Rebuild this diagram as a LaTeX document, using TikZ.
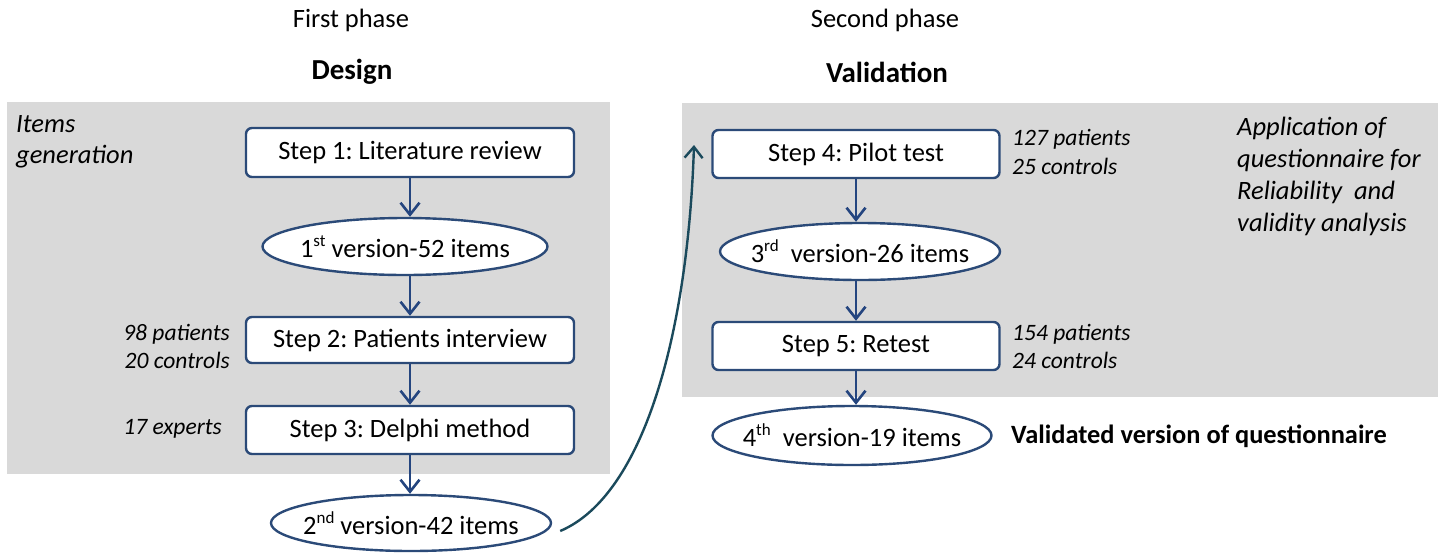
\documentclass[tikz,border=0pt]{standalone}
\usepackage{fontspec}
\setmainfont{Carlito}
\frenchspacing
\usetikzlibrary{arrows.meta,shapes.geometric}
\definecolor{panelgray}{HTML}{D9D9D9}
\definecolor{boxblue}{HTML}{2B4A78}
\definecolor{arrowblue}{HTML}{24457F}
\definecolor{curveteal}{HTML}{1B4A5C}
\newcommand{\fsz}[1]{\fontsize{#1}{#1}\selectfont}
\newcommand{\fszl}[2]{\fontsize{#1}{#2}\selectfont}
% the ellipse size is given by minimum width/height only
\newcommand{\etext}[1]{\makebox[0pt]{#1}}
\newcommand{\ord}[1]{\raisebox{0.42em}{\fontsize{17}{17}\selectfont #1}}
\tikzset{
  stepbox/.style={draw=boxblue, line width=2.4pt, rounded corners=6pt, fill=white,
    inner sep=0pt, font=\fsz{26.5}},
  verell/.style={ellipse, draw=boxblue, line width=2.4pt, fill=white, inner sep=0pt,
    font=\fsz{26.5}},
  flow/.style={draw=arrowblue, line width=2.6pt,
    -{Straight Barb[length=12pt,width=19pt,line width=2.6pt]}},
  note/.style={font=\fsz{23.5}\itshape, inner sep=0pt},
  heading/.style={font=\fsz{26.5}, inner sep=0pt},
  title/.style={font=\fsz{29}\bfseries, inner sep=0pt},
}
\begin{document}
\begin{tikzpicture}[x=1pt,y=-1pt]
  \useasboundingbox (0,0) rectangle (1445,552);
  % panels
  \fill[panelgray] (7,102) rectangle (610,474);
  \fill[panelgray] (682,103) rectangle (1438,397);

  % headings
  \node[heading] (h1) at (351,20) {First phase};
  \node[title]   (t1) at (352,72) {Design};
  \node[heading] (h2) at (885,20) {Second phase};
  \node[title]   (t2) at (887,72) {Validation};

  % first phase
  \node[stepbox, minimum width=328pt, minimum height=49pt] (s1) at (410,152.5) {Step 1: Literature review};
  \node[verell, minimum width=285pt, minimum height=57pt] (e1) at (405,246.5) {\etext{1\ord{st} version-52 items}};
  \node[stepbox, minimum width=328pt, minimum height=46pt] (s2) at (410,340) {Step 2: Patients interview};
  \node[stepbox, minimum width=328pt, minimum height=48pt] (s3) at (410,430) {Step 3: Delphi method};
  \node[verell, minimum width=280pt, minimum height=56pt] (e2) at (411,523) {\etext{2\ord{nd} version-42 items}};

  \node[note, anchor=west, align=left, font=\fszl{26.5}{31}\itshape] (ig) at (16,142) {Items\\generation};
  \node[note, anchor=east, align=right, font=\fszl{23.5}{28}\itshape] (n2) at (230,346) {98 patients\\20 controls};
  \node[note, anchor=east] (n3) at (222,429) {17 experts};

  \draw[flow] (s1.south) -- (s1.south |- e1.north);
  \draw[flow] (s1.south |- e1.south) -- (s2.north);
  \draw[flow] (s2.south) -- (s3.north);
  \draw[flow] (s3.south) -- (s3.south |- e2.north);

  % second phase
  \node[stepbox, minimum width=287pt, minimum height=48pt] (s4) at (856,154) {Step 4: Pilot test};
  \node[verell, minimum width=280pt, minimum height=57pt] (e3) at (860,251.5) {\etext{3\ord{rd}\ \ version-26 items}};
  \node[stepbox, minimum width=287pt, minimum height=48pt] (s5) at (856,346) {Step 5: Retest};
  \node[verell, minimum width=279pt, minimum height=59pt] (e4) at (852,435.5) {\etext{4\ord{th}\ \ version-19 items}};

  \node[note, anchor=west, align=left, font=\fszl{23.5}{29}\itshape] (n4) at (1012,152) {127 patients\\25 controls};
  \node[note, anchor=west, align=left, font=\fszl{23.5}{28}\itshape] (n5) at (1012,346) {154 patients\\24 controls};
  \node[note, anchor=west, align=left, font=\fszl{26.5}{32}\itshape] (app) at (1237,176)
    {Application of\\questionnaire for\\Reliability\ \ and\\validity analysis};
  \node[font=\fsz{26.4}\bfseries, anchor=west, inner sep=0pt] (val) at (1011,436) {Validated version of questionnaire};

  \draw[flow] (s4.south) -- (s4.south |- e3.north);
  \draw[flow] (s4.south |- e3.south) -- (s5.north);
  \draw[flow] (s5.south) -- (s5.south |- e4.north);

  % link between the phases
  \coordinate (tip) at (694,145);
  \draw[draw=curveteal, line width=2.4pt,
        -{Straight Barb[length=11pt,width=18pt,line width=2.4pt]}]
    ([xshift=8pt,yshift=-8pt]e2.east) .. controls (645,495) and (688,330) .. (tip);
\end{tikzpicture}
\end{document}
